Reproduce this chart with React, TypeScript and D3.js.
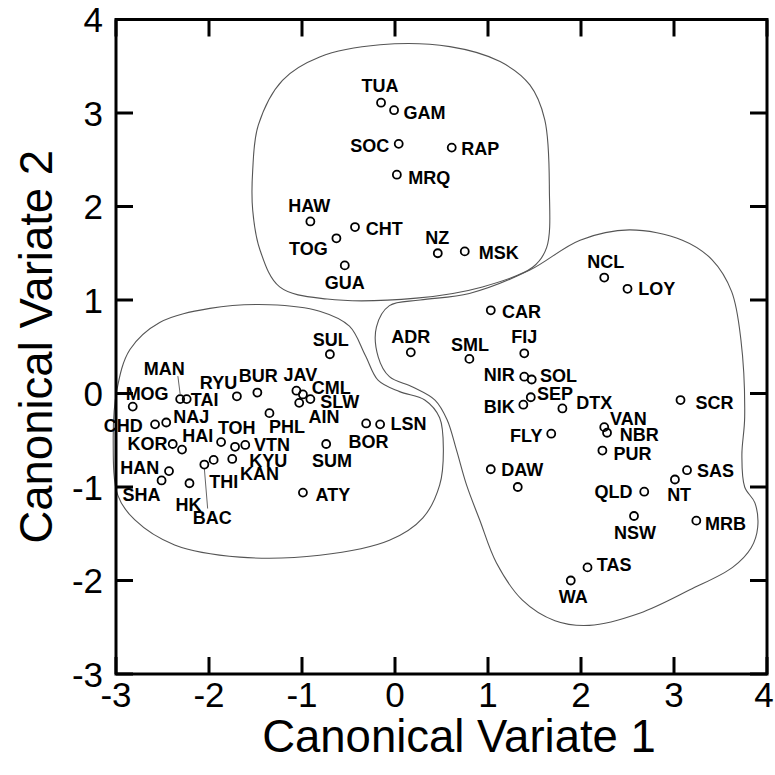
import React from 'react';
import * as d3 from 'd3';

// ---- data (canonical variate scores) ----
const names = [
  'TUA','GAM','SOC','RAP','MRQ','HAW','CHT','TOG','NZ','MSK','GUA',
  'MOG','MAN','TAI','RYU','BUR','JAV','CML','SLW','AIN','PHL','CHD','NAJ','KOR','HAI','TOH','KYU','VTN','KAN','HAN','SHA','HK','BAC','THI','SUL','LSN','BOR','SUM','ATY',
  'ADR','SML','NCL','LOY','CAR','FIJ','NIR','SOL','SEP','BIK','DTX','SCR','VAN','NBR','FLY','PUR','DAW','','SAS','NT','QLD','MRB','NSW','TAS','WA'
];
const cv1 = [
  -0.15,-0.01,0.04,0.61,0.02,-0.91,-0.43,-0.63,0.46,0.75,-0.54,
  -2.82,-2.31,-2.24,-1.70,-1.48,-1.06,-0.99,-0.91,-1.03,-1.35,-2.58,-2.46,-2.39,-2.29,-1.87,-1.72,-1.61,-1.75,-2.43,-2.51,-2.21,-2.05,-1.95,-0.70,-0.16,-0.31,-0.74,-0.99,
  0.17,0.80,2.25,2.50,1.03,1.39,1.39,1.47,1.46,1.38,1.80,3.07,2.25,2.28,1.68,2.23,1.03,1.32,3.14,3.01,2.68,3.24,2.57,2.07,1.89
];
const cv2 = [
  3.11,3.03,2.67,2.63,2.34,1.84,1.78,1.66,1.50,1.52,1.37,
  -0.14,-0.06,-0.06,-0.03,0.01,0.03,-0.01,-0.06,-0.10,-0.21,-0.33,-0.31,-0.54,-0.60,-0.52,-0.57,-0.55,-0.70,-0.83,-0.93,-0.96,-0.76,-0.71,0.42,-0.33,-0.32,-0.54,-1.06,
  0.44,0.37,1.24,1.12,0.89,0.43,0.18,0.15,-0.04,-0.12,-0.16,-0.07,-0.36,-0.42,-0.43,-0.61,-0.81,-1.00,-0.82,-0.92,-1.05,-1.36,-1.31,-1.86,-2.00
];

// label placement (offset of label centre from its point, px)
const labelDx = [
  -1,30.5,-29,28.5,32.5,-1,29.3,-28,-0.5,34,0,
  14.4,-16,18,-18.4,1,4,28.4,29.3,24.9,17.5,-31.7,25,-25.2,15.8,15.7,33.3,26.7,27.3,-29.3,-20,-1,8,10,0.8,28.3,2.3,5.7,30,
  0,0.7,1.5,29.2,30.7,0,-25.1,26.9,24.3,-24.1,31.9,34,24.2,32.3,-25,30.2,31.5,0,28.5,4.2,-30.8,29.1,1,26.7,2.6
];
const labelDy = [
  -17,2,1.5,1,3,-16,1,10.5,-16,1,17,
  -12.7,-30.7,0,-13.4,-17.3,-15.7,-7.3,2.4,13.4,13.7,1,-6,-0.7,-14.3,-15,13.3,0,14.9,-3.5,14.3,21,52.7,21.7,-14.3,-0.7,18.4,16.8,1.5,
  -16,-14.3,-16,0.2,0.8,-16.6,-1.7,-3.5,-4,1.5,-5.8,2.5,-8.4,1.3,1.7,2.6,0.7,0,0,14.9,0,2.6,16.8,-2.8,16.4
];
// leader lines: [name, x1,y1,x2,y2] offsets from point (px)
const leaders: [string, number, number, number, number][] = [
  ['MAN', -2.3, -23, 0, -5],
  ['BAC', 0, 4, 3.3, 44],
];

const xTicks = [-3, -2, -1, 0, 1, 2, 3, 4];
const yTicks = [-3, -2, -1, 0, 1, 2, 3, 4];

// group outlines (data units)
const topOutlineX = [-1.53,-1.47,-1.21,-0.81,-0.16,0.59,1.13,1.45,1.61,1.66,1.63,1.48,0.94,0.23,-0.73,-1.24,-1.45,-1.53];
const topOutlineY = [2.39,2.87,3.35,3.60,3.73,3.71,3.55,3.30,2.93,2.18,1.56,1.35,1.14,1.02,1.01,1.14,1.53,1.96];
const leftOutlineX = [-2.99,-2.85,-2.53,-1.99,-1.35,-0.81,-0.49,-0.32,-0.18,0.05,0.32,0.48,0.52,0.48,0.30,-0.06,-0.81,-1.67,-2.37,-2.80,-2.98,-3.03];
const leftOutlineY = [0.04,0.47,0.76,0.91,0.95,0.88,0.72,0.41,0.14,0.02,-0.07,-0.26,-0.60,-0.98,-1.33,-1.57,-1.73,-1.75,-1.62,-1.35,-1.09,-0.50];
const rightOutlineX = [-0.06,0.27,0.80,1.45,1.99,2.52,3.09,3.41,3.62,3.72,3.76,3.73,3.76,3.87,3.90,3.83,3.63,3.17,2.63,2.09,1.72,1.37,1.09,0.91,0.77,0.66,0.56,0.43,0.19,-0.06,-0.18,-0.20];
const rightOutlineY = [0.94,1.00,1.07,1.32,1.64,1.75,1.64,1.43,1.09,0.57,-0.25,-0.66,-1.00,-1.17,-1.43,-1.65,-1.86,-2.10,-2.35,-2.48,-2.43,-2.21,-1.81,-1.35,-0.98,-0.60,-0.28,-0.07,0.07,0.18,0.39,0.71];

const xTitle = 'Canonical Variate 1';
const yTitle = 'Canonical Variate 2';

export default function App() {
  const W = 775, H = 775;
  const x = d3.scaleLinear().domain([-3, 4]).range([116, 767]);
  const y = d3.scaleLinear().domain([-3, 4]).range([674, 19.5]);
  const outline = d3.line<[number, number]>()
    .x(d => x(d[0])).y(d => y(d[1]))
    .curve(d3.curveCatmullRomClosed.alpha(0.5));
  const zip = (a: number[], b: number[]) => a.map((v, i) => [v, b[i]] as [number, number]);
  const outlines = [
    zip(topOutlineX, topOutlineY),
    zip(leftOutlineX, leftOutlineY),
    zip(rightOutlineX, rightOutlineY),
  ];
  const tickLen = 17;
  const x0 = x(-3), x1 = x(4), y0 = y(-3), y1 = y(4);
  const labelFont = 18;
  const axisFont = 35;
  const titleFont = 45.5;

  return (
    <svg width={W} height={H} style={{ position: 'absolute', left: 0, top: 0, background: '#fff' }}
      fontFamily="'Liberation Sans', Arial, Helvetica, sans-serif">
      <rect x={0} y={0} width={W} height={H} fill="#fff" />
      {outlines.map((pts, i) => (
        <path key={i} d={outline(pts) || ''} fill="none" stroke="#555" strokeWidth={1.1} />
      ))}
      {/* ticks */}
      {xTicks.map(t => (
        <g key={'xt' + t}>
          <line x1={x(t)} x2={x(t)} y1={y0} y2={y0 - tickLen} stroke="#000" strokeWidth={3} />
          <line x1={x(t)} x2={x(t)} y1={y1} y2={y1 + tickLen} stroke="#000" strokeWidth={3} />
          <text x={t === 4 ? x(t) - 3 : x(t)} y={y0 + 8 + axisFont * 0.72} fontSize={axisFont} textAnchor="middle">{t}</text>
        </g>
      ))}
      {yTicks.map(t => (
        <g key={'yt' + t}>
          <line x1={x0} x2={x0 + tickLen} y1={y(t)} y2={y(t)} stroke="#000" strokeWidth={3} />
          <line x1={x1} x2={x1 - tickLen} y1={y(t)} y2={y(t)} stroke="#000" strokeWidth={3} />
          <text x={x0 - 13} y={y(t) + axisFont * 0.36} fontSize={axisFont} textAnchor="end">{t}</text>
        </g>
      ))}
      <rect x={x0} y={y1} width={x1 - x0} height={y0 - y1} fill="none" stroke="#000" strokeWidth={3} />
      {/* leader lines */}
      {leaders.map(([n, a, b, c, d]) => {
        const i = names.indexOf(n);
        const px = x(cv1[i]), py = y(cv2[i]);
        return <line key={'ld' + n} x1={px + a} y1={py + b} x2={px + c} y2={py + d} stroke="#666" strokeWidth={1} />;
      })}
      {/* points */}
      {names.map((n, i) => (
        <circle key={'p' + i} cx={x(cv1[i])} cy={y(cv2[i])} r={4} fill="none" stroke="#000" strokeWidth={1.8} />
      ))}
      {names.map((n, i) => n ? (
        <text key={'l' + i} x={x(cv1[i]) + labelDx[i]} y={y(cv2[i]) + labelDy[i] + labelFont * 0.36}
          fontSize={labelFont} fontWeight="bold" textAnchor="middle">{n}</text>
      ) : null)}
      <text x={459} y={752} fontSize={titleFont} textAnchor="middle">{xTitle}</text>
      <text transform={`translate(${52},${(y0 + y1) / 2}) rotate(-90)`} fontSize={titleFont} textAnchor="middle">{yTitle}</text>
    </svg>
  );
}
